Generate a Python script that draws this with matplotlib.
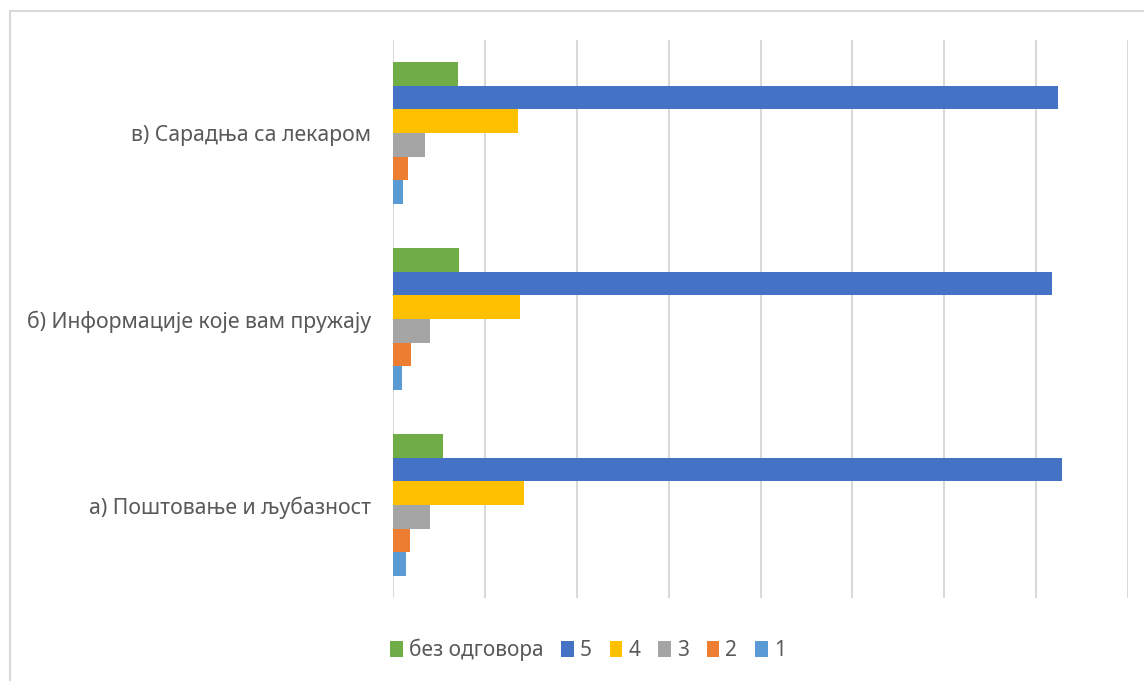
import numpy as np
import matplotlib.pyplot as plt
from matplotlib.lines import Line2D
from matplotlib.patches import Patch

# categories, bottom to top as they appear on the chart
categories = ["а) Поштовање и љубазност", "б) Информације које вам пружају", "в) Сарадња са лекаром"]

# series values (no axis labels shown; values read relative to the gridlines, 10 per gridline)
series_names = ["без одговора", "5", "4", "3", "2", "1"]
no_answer = [5.4, 7.2, 7.1]
grade_5 = [72.8, 71.7, 72.4]
grade_4 = [14.3, 13.8, 13.6]
grade_3 = [4.0, 4.0, 3.5]
grade_2 = [1.8, 2.0, 1.6]
grade_1 = [1.4, 1.0, 1.1]

colors = ["#70ad47", "#4472c4", "#ffc000", "#a5a5a5", "#ed7d31", "#5b9bd5"]

plt.rcParams['font.family'] = ['Noto Sans', 'DejaVu Sans']

fig = plt.figure(figsize=(11.44, 6.81), dpi=100)
ax = fig.add_axes([393/1144, 1-598/681, (1128-393)/1144, 558/681])

y = np.arange(len(categories))
h = 0.127
all_series = [no_answer, grade_5, grade_4, grade_3, grade_2, grade_1]
# first series sits on top inside each group
for i, (vals, c) in enumerate(zip(all_series, colors)):
    offset = (2.5 - i)*h
    ax.barh(y + offset, vals, height=h, color=c, zorder=3)

ax.set_xlim(0, 80)
ax.set_ylim(-0.5, 2.5)
ax.set_xticks(np.arange(0, 81, 10))
ax.set_xticklabels([])
ax.tick_params(axis='x', length=0)
ax.tick_params(axis='y', length=0, pad=16, labelsize=15.3, labelcolor="#595959")
ax.set_yticks(y)
ax.set_yticklabels(categories)
ax.grid(axis='x', color="#d9d9d9", linewidth=1.5, zorder=0)
for s in ax.spines.values():
    s.set_visible(False)

handles = [Patch(facecolor=c) for c in colors]
fig.legend(handles, series_names, loc='center', bbox_to_anchor=(588/1144, 1-650/681), ncol=6,
           frameon=False, fontsize=15, labelcolor="#595959", handlelength=0.6, handleheight=0.8,
           handletextpad=0.3, columnspacing=0.85)

# chart border (top and left edges visible)
fig.add_artist(Line2D([9.5/1144, 9.5/1144], [0, 1-11/681], transform=fig.transFigure, color="#d9d9d9", lw=1.5))
fig.add_artist(Line2D([9.5/1144, 1], [1-11/681, 1-11/681], transform=fig.transFigure, color="#d9d9d9", lw=1.5))

fig.savefig("out.png", dpi=100)
